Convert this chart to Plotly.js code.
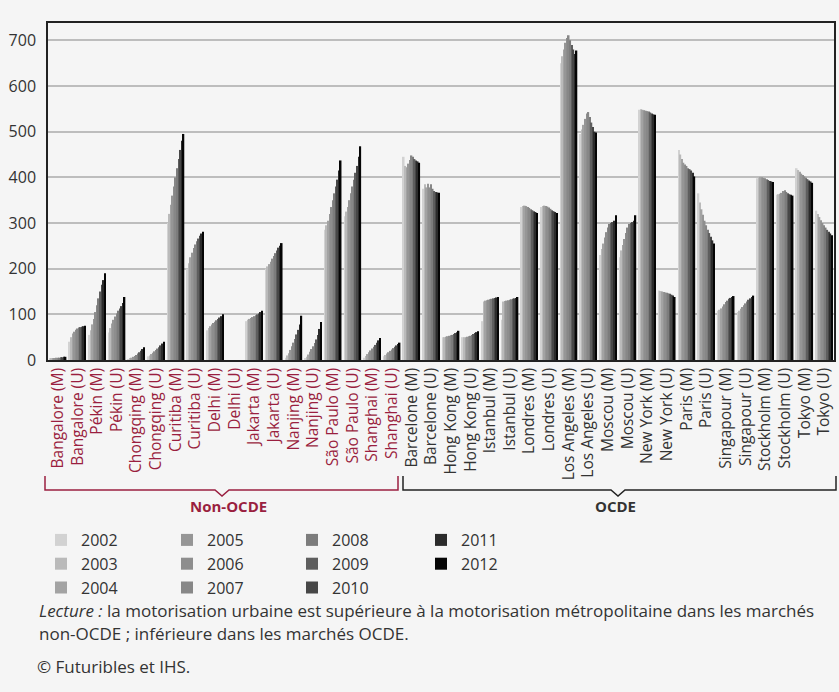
<!DOCTYPE html>
<html><head><meta charset="utf-8">
<script src="https://cdn.plot.ly/plotly-3.0.1.min.js"></script>
<style>html,body{margin:0;padding:0;background:#f5f5f5}</style>
</head><body>
<div id="chart" style="width:839px;height:692px"></div>
<script>
const years = ['2002','2003','2004','2005','2006','2007','2008','2009','2010','2011','2012'];
const cities = ['Bangalore (M)','Bangalore (U)','Pékin (M)','Pékin (U)','Chongqing (M)','Chongqing (U)','Curitiba (M)','Curitiba (U)','Delhi (M)','Delhi (U)','Jakarta (M)','Jakarta (U)','Nanjing (M)','Nanjing (U)','São Paulo (M)','São Paulo (U)','Shanghai (M)','Shanghai (U)',
  'Barcelone (M)','Barcelone (U)','Hong Kong (M)','Hong Kong (U)','Istanbul (M)','Istanbul (U)','Londres (M)','Londres (U)','Los Angeles (M)','Los Angeles (U)','Moscou (M)','Moscou (U)','New York (M)','New York (U)','Paris (M)','Paris (U)','Singapour (M)','Singapour (U)','Stockholm (M)','Stockholm (U)','Tokyo (M)','Tokyo (U)'];
const groups = ['Non-OCDE','Non-OCDE','Non-OCDE','Non-OCDE','Non-OCDE','Non-OCDE','Non-OCDE','Non-OCDE','Non-OCDE','Non-OCDE','Non-OCDE','Non-OCDE','Non-OCDE','Non-OCDE','Non-OCDE','Non-OCDE','Non-OCDE','Non-OCDE',
  'OCDE','OCDE','OCDE','OCDE','OCDE','OCDE','OCDE','OCDE','OCDE','OCDE','OCDE','OCDE','OCDE','OCDE','OCDE','OCDE','OCDE','OCDE','OCDE','OCDE','OCDE','OCDE'];

const y2002 = [3,40,55,60,2,8,300,200,65,null,85,200,5,3,285,315,5,8,445,375,50,50,85,88,335,335,650,495,230,225,548,152,460,365,108,105,398,362,420,327];
const y2003 = [3,50,65,70,3,10,320,212,70,null,88,205,10,7,295,325,9,11,425,385,50,50,128,128,337,337,665,505,243,240,549,151,450,345,110,108,400,363,416,320];
const y2004 = [4,58,78,80,5,13,340,225,74,null,90,210,15,12,305,335,13,14,422,378,51,50,130,129,338,338,680,515,255,252,548,150,440,330,113,112,401,364,412,313];
const y2005 = [4,62,90,88,7,16,360,235,78,null,92,215,22,18,320,350,17,17,430,386,52,51,131,130,337,337,695,528,268,265,547,149,432,318,117,116,400,366,408,306];
const y2006 = [5,66,105,95,9,19,380,245,81,null,94,222,30,24,335,365,21,20,438,378,53,52,132,131,335,336,705,540,280,278,546,148,428,305,122,120,399,370,405,300];
const y2007 = [5,69,120,102,11,22,400,253,84,null,96,228,38,30,350,380,25,23,448,385,54,53,133,132,333,334,711,543,290,290,545,147,425,295,127,124,398,372,402,295];
const y2008 = [5,71,135,108,14,25,420,260,87,null,98,234,46,37,365,395,29,26,445,375,55,55,134,133,330,331,700,532,298,298,544,146,420,285,130,128,396,368,399,290];
const y2009 = [6,72,150,113,17,28,440,266,90,null,100,240,56,45,380,410,33,29,440,370,57,57,135,134,328,328,690,520,300,300,542,145,418,278,134,132,394,365,396,285];
const y2010 = [6,73,165,118,20,32,460,272,93,null,102,246,66,55,395,425,38,32,437,368,59,59,136,135,326,326,680,510,302,302,540,143,415,270,136,135,392,363,393,281];
const y2011 = [7,74,175,125,24,36,480,277,96,null,105,250,78,68,415,445,43,35,435,367,61,61,137,136,324,324,670,500,305,305,538,141,410,262,138,138,391,362,391,277];
const y2012 = [7,75,190,138,28,40,495,281,100,null,108,256,97,83,437,468,48,38,432,366,64,63,138,138,322,322,678,498,317,317,537,138,402,255,140,141,390,360,388,273];
const series = [y2002,y2003,y2004,y2005,y2006,y2007,y2008,y2009,y2010,y2011,y2012];

const colors = ['#d2d2d2','#bababa','#a3a3a3','#969696','#8e8e8e','#878787','#7c7c7c','#5e5e5e','#474747','#2b2b2b','#050505'];
const yTicks = [0,100,200,300,400,500,600,700];

const RED = '#9a1f40', DARK = '#333333';
const FONT = '"Open Sans", "Noto Sans", sans-serif';

const legendIds = ['legend','legend2','legend3','legend4'];
const traces = years.map((yr, i) => ({
  type: 'bar', name: yr, x: cities, y: series[i],
  marker: {color: colors[i]},
  legend: legendIds[Math.floor(i/3)],
  hoverinfo: 'x+y+name'
}));

const ticktext = cities.map((c, i) => '<span style="color:' + (groups[i] === 'OCDE' ? DARK : RED) + '">' + c + '</span>');

// pixel -> paper helpers (plot area: left 48, width 786, bottom 360, height 337)
const px = p => (p - 48) / 786;
const py = p => (360 - p) / 337;

function bracket(x0, x1, xc, color) {
  const yTop = py(476), yB = py(490), yN = py(496), d = 7/786;
  return {
    type: 'path', xref: 'paper', yref: 'paper',
    path: `M${x0},${yTop} L${x0},${yB} L${xc-d},${yB} L${xc},${yN} L${xc+d},${yB} L${x1},${yB} L${x1},${yTop}`,
    line: {color: color, width: 1.5}
  };
}

const legendCommon = (x) => ({
  x: x, xanchor: 'left', y: py(523), yanchor: 'top', orientation: 'v',
  bgcolor: 'rgba(0,0,0,0)', font: {family: FONT, size: 16, color: DARK},
  itemclick: false, itemdoubleclick: false, tracegroupgap: 0
});

const layout = {
  width: 839, height: 692,
  paper_bgcolor: '#f5f5f5', plot_bgcolor: '#f5f5f5',
  margin: {l: 48, r: 5, t: 23, b: 332},
  barmode: 'group', bargap: 0.13, bargroupgap: 0,
  font: {family: FONT, size: 16, color: DARK},
  showlegend: true,
  xaxis: {
    type: 'category', tickvals: cities, ticktext: ticktext, tickangle: -90,
    tickfont: {family: FONT, size: 15.5, color: DARK},
    showgrid: false, showline: true, mirror: true, linecolor: '#222', linewidth: 1.5,
    ticks: '', fixedrange: true
  },
  yaxis: {
    range: [0, 738], tickvals: yTicks, ticktext: yTicks.map(String),
    tickfont: {family: FONT, size: 16, color: DARK},
    showgrid: true, gridcolor: '#bdbdbd', gridwidth: 2,
    zeroline: false, showline: true, mirror: true, linecolor: '#222', linewidth: 1.5,
    ticks: '', ticklabelstandoff: 7, fixedrange: true
  },
  legend: legendCommon(px(41)),
  legend2: legendCommon(px(167)),
  legend3: legendCommon(px(292)),
  legend4: legendCommon(px(421)),
  shapes: [
    bracket(px(45), px(398), px(222), RED),
    bracket(px(403), px(836), px(618), '#222')
  ],
  annotations: [
    {xref:'paper', yref:'paper', x: px(228), y: py(506), text: '<b>Non-OCDE</b>', showarrow: false,
     xanchor: 'center', yanchor: 'middle', font: {family: FONT, size: 15, color: RED}},
    {xref:'paper', yref:'paper', x: px(615), y: py(506), text: '<b>OCDE</b>', showarrow: false,
     xanchor: 'center', yanchor: 'middle', font: {family: FONT, size: 15, color: DARK}},
    {xref:'paper', yref:'paper', x: px(37), y: py(610), showarrow: false, xanchor: 'left', yanchor: 'middle',
     text: '<i>Lecture :</i> la motorisation urbaine est supérieure à la motorisation métropolitaine dans les marchés',
     font: {family: FONT, size: 17, color: DARK}},
    {xref:'paper', yref:'paper', x: px(37), y: py(633), showarrow: false, xanchor: 'left', yanchor: 'middle',
     text: 'non-OCDE ; inférieure dans les marchés OCDE.',
     font: {family: FONT, size: 17, color: DARK}},
    {xref:'paper', yref:'paper', x: px(35), y: py(666), showarrow: false, xanchor: 'left', yanchor: 'middle',
     text: '© Futuribles et IHS.',
     font: {family: FONT, size: 17, color: DARK}}
  ]
};

Plotly.newPlot('chart', traces, layout, {displayModeBar: false, responsive: false});
</script>
</body></html>
